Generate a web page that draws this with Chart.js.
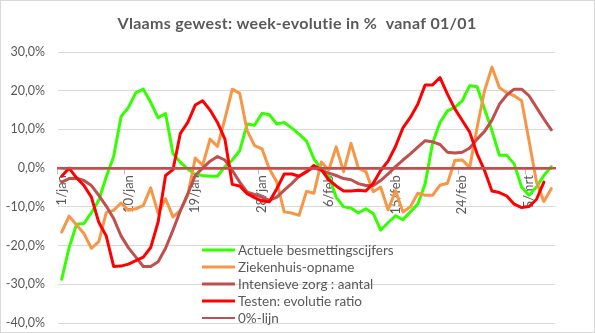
<!DOCTYPE html>
<html><head><meta charset="utf-8">
<script src="https://cdn.jsdelivr.net/npm/chart.js@4.4.1/dist/chart.umd.min.js"></script>
<style>html,body{margin:0;padding:0;background:#fff}#wrap{width:595px;height:333px;position:relative}</style>
</head><body><div id="wrap"><canvas id="c"></canvas></div>
<script>
const chartTitle = 'Vlaams gewest: week-evolutie in %  vanaf 01/01';
const dates = [
 '1/jan','2/jan','3/jan','4/jan','5/jan','6/jan','7/jan','8/jan','9/jan','10/jan',
 '11/jan','12/jan','13/jan','14/jan','15/jan','16/jan','17/jan','18/jan','19/jan','20/jan',
 '21/jan','22/jan','23/jan','24/jan','25/jan','26/jan','27/jan','28/jan','29/jan','30/jan','31/jan',
 '1/feb','2/feb','3/feb','4/feb','5/feb','6/feb','7/feb','8/feb','9/feb','10/feb',
 '11/feb','12/feb','13/feb','14/feb','15/feb','16/feb','17/feb','18/feb','19/feb','20/feb',
 '21/feb','22/feb','23/feb','24/feb','25/feb','26/feb','27/feb','28/feb',
 '1/mrt','2/mrt','3/mrt','4/mrt','5/mrt','6/mrt','7/mrt','8/mrt'
];
const labelEvery = 9;
const seriesNames = ['Actuele besmettingscijfers','Ziekenhuis-opname','Intensieve zorg : aantal','Testen: evolutie ratio','0%-lijn'];
const seriesColors = ['#33FF00','#F79646','#C0504D','#FF0000','#C0504D'];

const actuele = [
 -28.7,-20.5,-14.5,-14.3,-11.5,-8.3,-2.3,3.0,13.3,15.7,
 19.5,20.4,17.0,13.0,14.1,3.8,1.5,-0.2,-1.6,-1.9,
 -2.1,-2.1,0.4,2.1,4.5,11.4,11.1,14.2,13.8,11.4,11.8,
 10.4,8.8,7.0,2.4,-0.2,-1.9,-7.5,-10.0,-10.3,-11.6,
 -10.5,-11.7,-16.0,-14.1,-12.3,-13.3,-11.3,-9.3,-4.0,6.5,
 11.8,14.8,15.7,17.4,21.3,21.0,15.3,9.7,
 3.3,3.3,1.1,-4.9,-7.0,-4.9,-1.9,0.4
];
const ziekenhuis = [
 -16.5,-12.4,-14.7,-16.9,-20.7,-19.0,-11.5,-10.9,-9.0,-10.9,
 -10.5,-9.6,-5.1,-11.7,-7.9,-12.6,-10.9,-7.0,2.6,0.7,
 7.5,5.6,12.7,20.4,19.3,9.7,5.8,5.0,-0.2,-3.6,-11.3,
 -11.6,-12.2,-6.0,-6.5,1.6,-0.5,5.5,-0.9,6.4,0.0,
 -0.9,-6.1,-4.9,-10.8,-5.8,-11.3,-10.0,-6.5,-7.0,-7.0,
 -4.4,-3.9,2.0,2.1,0.2,10.5,20.0,26.1,
 20.8,19.5,18.7,17.4,7.1,-3.5,-8.6,-5.3
];
const intensieve = [
 -3.6,-2.7,-2.6,-3.2,-4.5,-7.0,-9.8,-13.0,-17.5,-20.6,
 -23.0,-25.4,-25.4,-24.2,-20.7,-16.0,-11.0,-6.6,-1.9,0.0,
 1.8,3.0,2.1,-0.6,-3.6,-6.2,-6.8,-7.5,-8.3,-7.5,-5.7,
 -4.0,-2.1,-0.8,0.1,-0.6,-1.3,-1.9,-2.7,-3.0,-4.0,
 -4.5,-4.5,-3.2,-1.5,0.4,2.1,3.7,5.4,7.1,6.8,
 6.1,4.1,3.9,4.1,5.2,7.5,9.5,12.4,
 16.5,18.9,20.4,20.4,18.7,15.7,12.7,9.9
];
const testen = [
 -2.1,0.0,-2.5,-4.5,-7.5,-14.0,-17.5,-25.4,-25.3,-24.8,
 -23.9,-23.0,-20.5,-13.9,-1.9,-0.4,9.0,11.8,16.3,17.4,
 15.0,11.8,7.5,-4.2,-4.6,-6.6,-7.6,-8.5,-8.7,-5.3,-1.5,
 -1.5,-2.1,-1.0,0.7,-0.4,-3.0,-4.6,-5.9,-5.9,-5.7,
 -5.9,-3.9,-0.6,1.8,5.6,10.4,13.1,16.5,21.5,21.5,
 23.4,19.1,15.3,12.3,9.3,3.7,-0.6,-5.9,
 -6.3,-7.2,-9.3,-10.2,-9.9,-8.1,-3.6,null
];
const nullijn = [
 0,0,0,0,0,0,0,0,0,0, 0,0,0,0,0,0,0,0,0,0, 0,0,0,0,0,0,0,0,0,0,0,
 0,0,0,0,0,0,0,0,0,0, 0,0,0,0,0,0,0,0,0,0, 0,0,0,0,0,0,0,0,
 0,0,0,0,0,0,0,0
];
const yMin = -40, yMax = 30, yStep = 10;

const textColor = '#595959';
const FONT = 'Lato, "Liberation Sans", sans-serif';

const seriesData = [actuele, ziekenhuis, intensieve, testen, nullijn];
const widths = [3, 3, 3, 3, 2.5];

const datasets = seriesData.map((d, i) => ({
  label: seriesNames[i],
  data: d,
  borderColor: seriesColors[i],
  backgroundColor: seriesColors[i],
  borderWidth: widths[i],
  pointRadius: 0,
  tension: 0,
  fill: false,
  spanGaps: false,
  borderJoinStyle: 'round',
  borderCapStyle: 'round',
  order: seriesNames.length - i
}));

const decorPlugin = {
  id: 'decor',
  beforeDraw(chart) {
    const ctx = chart.ctx;
    ctx.save();
    ctx.fillStyle = '#fff';
    ctx.fillRect(0, 0, chart.width, chart.height);
    ctx.restore();
  },
  afterDraw(chart) {
    const ctx = chart.ctx;
    ctx.save();
    ctx.strokeStyle = '#d9d9d9';
    ctx.lineWidth = 1;
    ctx.strokeRect(0.5, 0.5, chart.width - 1, chart.height - 1);
    ctx.fillStyle = textColor;
    ctx.font = 'bold 16px ' + FONT;
    ctx.textAlign = 'center';
    ctx.textBaseline = 'middle';
    try { ctx.letterSpacing = '0.3px'; } catch (e) {}
    ctx.fillText(chartTitle, 297, 24);
    try { ctx.letterSpacing = '0px'; } catch (e) {}
    const lx0 = 202, lx1 = 235, tx = 238;
    const rows = [250, 267, 284, 301, 318];
    ctx.font = '13.5px ' + FONT;
    ctx.textAlign = 'left';
    seriesNames.forEach((n, i) => {
      ctx.strokeStyle = seriesColors[i];
      ctx.lineWidth = i === 4 ? 2 : 3;
      ctx.beginPath();
      ctx.moveTo(lx0, rows[i]);
      ctx.lineTo(lx1, rows[i]);
      ctx.stroke();
      ctx.fillStyle = textColor;
      ctx.fillText(n, tx, rows[i] + 0.5);
    });
    ctx.restore();
  }
};

new Chart(document.getElementById('c'), {
  type: 'line',
  data: { labels: dates, datasets },
  options: {
    responsive: true,
    maintainAspectRatio: false,
    animation: false,
    events: [],
    layout: { padding: { left: 0, right: 40, top: 52, bottom: 10 } },
    plugins: { legend: { display: false }, title: { display: false }, tooltip: { enabled: false } },
    scales: {
      y: {
        min: yMin, max: yMax,
        afterFit(s) { s.width = 58; s.paddingTop = 0; s.paddingBottom = 0; },
        ticks: {
          stepSize: yStep,
          padding: 13,
          color: textColor,
          font: { family: FONT, size: 12.5 },
          callback: v => v.toFixed(1).replace('.', ',') + '%'
        },
        grid: { color: '#d9d9d9', lineWidth: 1, drawTicks: false },
        border: { display: false }
      },
      x: {
        type: 'category',
        position: { y: 0 },
        offset: true,
        grid: {
          offset: true,
          drawOnChartArea: false,
          drawTicks: true,
          tickLength: 5,
          color: c => (c.index % labelEvery === 0 ? '#bfbfbf' : 'rgba(0,0,0,0)'),
          lineWidth: 1
        },
        border: { display: true, color: '#C0504D', width: 2.5 },
        ticks: {
          autoSkip: false,
          maxRotation: 90,
          minRotation: 90,
          padding: 2,
          color: textColor,
          font: { family: FONT, size: 13 },
          callback: (v, i) => (i % labelEvery === 0 ? dates[i] : '')
        }
      }
    }
  },
  plugins: [decorPlugin]
});
</script></body></html>
